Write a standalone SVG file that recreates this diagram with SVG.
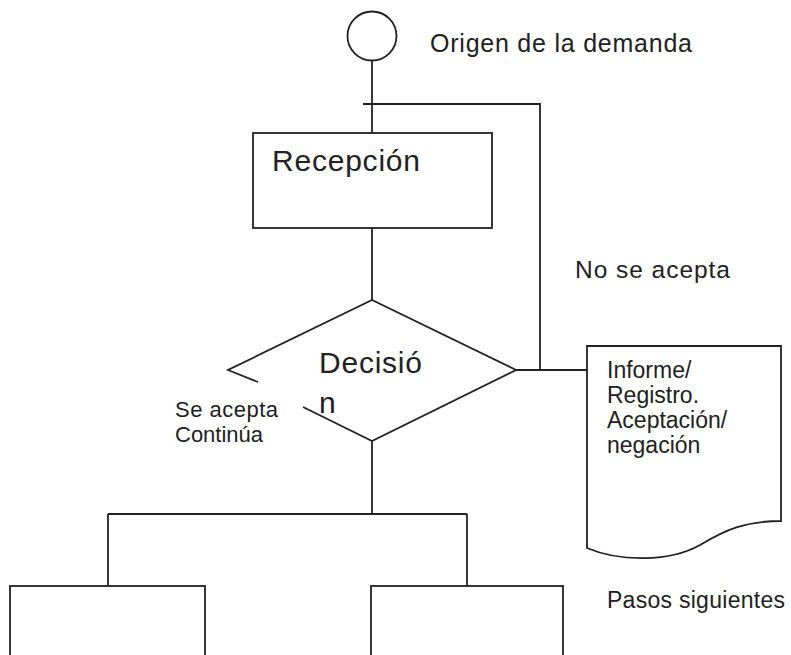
<svg xmlns="http://www.w3.org/2000/svg" width="791" height="655" viewBox="0 0 791 655">
<style>
.s{fill:#fff;stroke:#222;stroke-width:1.8}
.l{fill:none;stroke:#222;stroke-width:1.8}
text{font-family:"Liberation Sans",Arial,sans-serif;fill:#222}
</style>
<rect width="791" height="655" fill="#fff"/>
<g id="connectors">
<path class="l" d="M372,60 V133"/>
<path class="l" d="M363,104 H540 V370"/>
<path class="l" d="M372,228 V300"/>
<path class="l" d="M516,370 H588"/>
<path class="l" d="M372,441 V514 M108,514 H467 M108,514 V586 M467,514 V586"/>
</g>
<g id="origen">
<circle class="s" cx="372" cy="36" r="24.5"/>
<text x="430" y="52" font-size="25" textLength="262">Origen de la demanda</text>
</g>
<g id="recepcion">
<rect class="s" x="253" y="133" width="239" height="95"/>
<text x="272" y="171" font-size="30" textLength="148">Recepción</text>
</g>
<g id="decision">
<path class="l" d="M258,382 L228,370 L372,300 L516,370 L372,441 L303,407"/>
<text x="319" y="373" font-size="30" textLength="103">Decisió</text>
<text x="319" y="413" font-size="30">n</text>
</g>
<g id="se-acepta">
<text x="175" y="417" font-size="22" textLength="103">Se acepta</text>
<text x="175" y="442" font-size="22">Continúa</text>
</g>
<g id="no-se-acepta">
<text x="575" y="278" font-size="24.5" textLength="155">No se acepta</text>
</g>
<g id="informe">
<path class="s" d="M587,346 H781 V521 C745,521 725,530 700,545 C670,562 620,562 587,548 Z"/>
<text font-size="23">
<tspan x="607" y="378">Informe/</tspan>
<tspan x="607" y="403">Registro.</tspan>
<tspan x="607" y="428">Aceptación/</tspan>
<tspan x="607" y="453">negación</tspan>
</text>
</g>
<g id="pasos">
<rect class="s" x="10" y="586" width="195" height="80"/>
<rect class="s" x="371" y="586" width="192" height="80"/>
<text x="607" y="608" font-size="23" textLength="178">Pasos siguientes</text>
</g>
</svg>
